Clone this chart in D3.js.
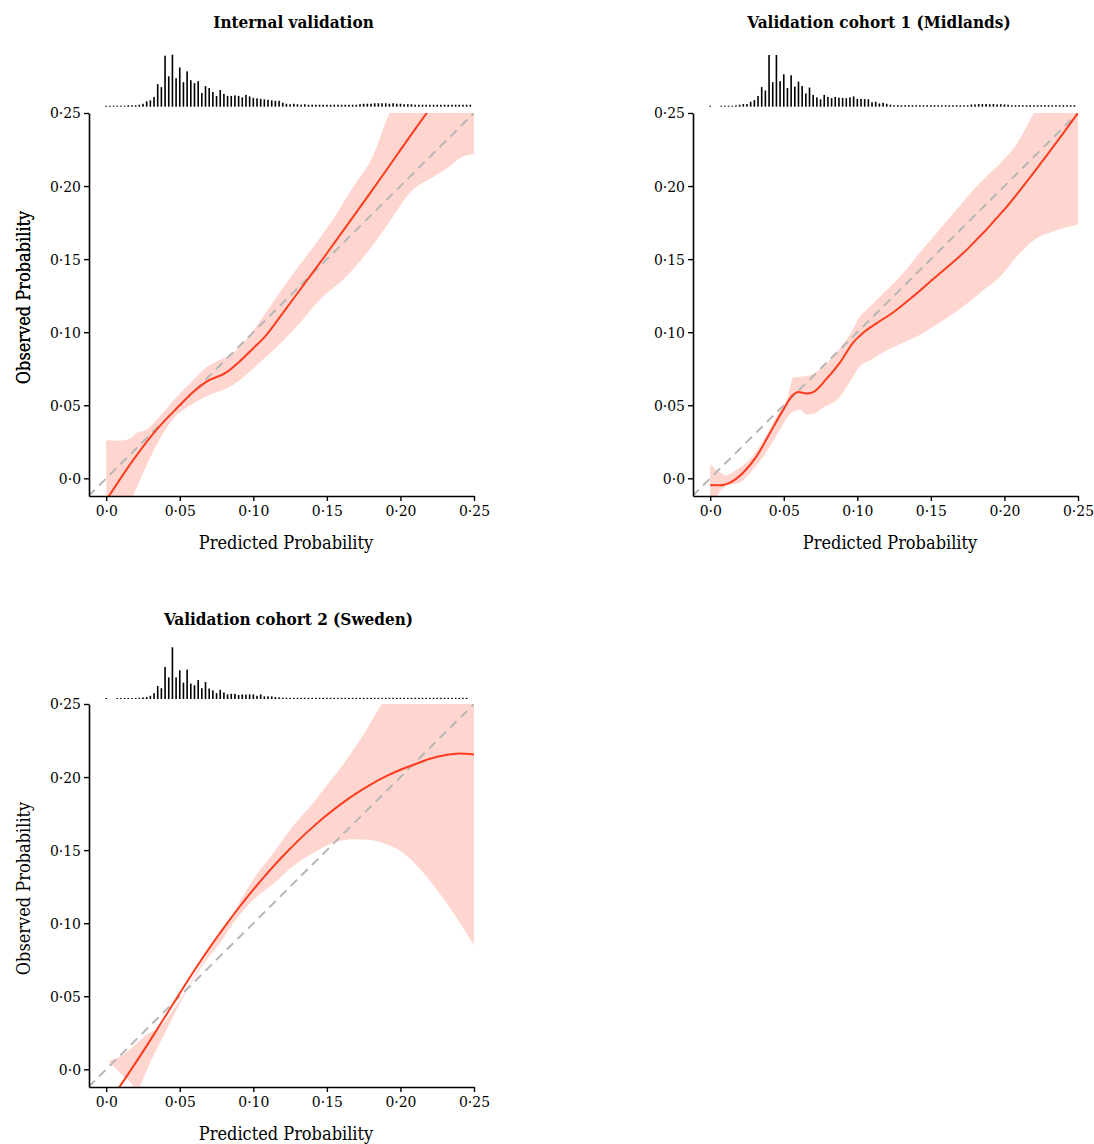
<!DOCTYPE html>
<html><head><meta charset="utf-8">
<script src="https://cdn.jsdelivr.net/npm/d3@7"></script>
<style>
html,body{margin:0;padding:0;background:#fff;}
svg{display:block;}
</style></head><body>
<svg id="chart" width="1094" height="1144"></svg>
<script>
// ---------------- data ----------------
const tickValues = [0, 0.05, 0.10, 0.15, 0.20, 0.25];
const tickLabels = ["0·0", "0·05", "0·10", "0·15", "0·20", "0·25"];
const titles = ["Internal validation", "Validation cohort 1 (Midlands)", "Validation cohort 2 (Sweden)"];
const xLabel = "Predicted Probability";
const yLabel = "Observed Probability";
const binWidth = 0.0025;

// histogram of predicted probabilities (relative heights, bins of 0.0025 from 0)
const hist1 = [1,1,1,1,1,1,1.5,1.5,1.5,2,
  3,5.5,6.5,10,23,20,52,31,53,29,
  40,25,36,27,24,26,14,21,19,15,
  11,17,13,11,11,11.5,11,9.5,12,10.5,
  9,8.5,8,7.5,7,6.5,6,6,4,3,
  2.5,3,2.5,2,2.5,2,2,2,2,2,
  2,2,2,2,2,2,2,2,2,2.5,
  3,3,3,3.5,3.5,3.5,3.5,3,3.5,3,
  3,2.5,2.5,2.5,2,2,2,2,2,2,
  2,2,2,2,2,2,2,2,2,2];
const hist2 = [1,0,0,1,1,1,1,1.3,2,2.7,
  2.7,5,6.7,11,20,16.5,52.7,25,52.7,26,
  33,19,32,20.5,25.5,21,13.5,19.5,12,9.5,
  7.5,12,10,8.7,10,9.2,9,8.7,9.5,10.5,
  8,8,7.8,7.5,4.5,5,3.3,4,3,2,
  1.5,1.5,1.5,1.5,1.5,1.5,1.5,1.5,1.5,1.5,
  1.5,1.5,1.5,1.5,1.5,1.5,1.5,1.5,1.5,1.5,
  1.5,2.3,2.3,2.7,2.7,2.7,2.5,2.7,2.3,2.5,
  2.3,2,1.5,1.5,1.5,1.5,1.5,1.5,1.5,1.5,
  1.5,1.5,1.5,1.5,1.5,1.5,1.5,1.5,1.5,1.5];
const hist3 = [1,0,0,1,1,1,1,1,1,1.3,
  1.7,2,3.3,6,13.3,11,32.7,22,52.7,22,
  29.3,16.7,30,15.7,14,19.3,11,17.3,10.7,8.7,
  6,9.3,6.7,4.7,5.3,5.3,4,4.7,4.5,4.7,
  4.7,3.3,4.7,2.7,2.7,2.7,2,1.7,1.3,1.3,
  1.2,1.2,1.2,1.2,1.2,1.2,1.2,1.2,1.2,1.2,
  1.2,1.2,1.2,1.2,1.2,1.2,1.2,1.2,1.2,1.2,
  1.2,1.2,1.2,1.2,1.2,1.2,1.2,1.2,1.2,1.2,
  1.2,1.2,1.2,1.2,1.2,1.2,1.2,1.2,1.2,1.2,
  1.2,1.2,1.2,1.2,1.2,1.2,1.2,1.2,1.2,0];

// calibration curves [predicted, observed]
const line1 = [[0,-0.015],[0.0183,0.0125],[0.034,0.033],[0.05,0.05],[0.058,0.058],[0.068,0.066],[0.0817,0.0725],[0.0907,0.080],[0.1,0.089],[0.1088,0.098],[0.12,0.113],[0.135,0.1335],[0.15,0.154],[0.165,0.175],[0.18,0.196],[0.195,0.2175],[0.21,0.239],[0.225,0.26]];
const upper1 = [[0,0.026],[0.0093,0.0257],[0.016,0.027],[0.0206,0.031],[0.027,0.033],[0.036,0.042],[0.05,0.058],[0.059,0.067],[0.068,0.076],[0.077,0.081],[0.086,0.0855],[0.0998,0.101],[0.113,0.12],[0.127,0.14],[0.1405,0.158],[0.154,0.177],[0.1676,0.199],[0.181,0.22],[0.1925,0.25],[0.21,0.28],[0.25,0.33]];
const lower1 = [[0,-0.045],[0.01,-0.03],[0.0183,-0.012],[0.027,0.008],[0.036,0.026],[0.045,0.040],[0.059,0.051],[0.0726,0.058],[0.0817,0.0615],[0.0907,0.067],[0.104,0.079],[0.118,0.092],[0.1314,0.106],[0.145,0.122],[0.163,0.138],[0.177,0.154],[0.19,0.172],[0.208,0.197],[0.222,0.206],[0.233,0.213],[0.242,0.22],[0.25,0.222]];

const line2 = [[0,-0.0046],[0.0066,-0.0048],[0.0134,-0.003],[0.0225,0.004],[0.0315,0.015],[0.0406,0.031],[0.0497,0.047],[0.0553,0.056],[0.0599,0.059],[0.0655,0.058],[0.07,0.059],[0.079,0.068],[0.088,0.079],[0.0973,0.093],[0.104,0.0996],[0.113,0.106],[0.125,0.114],[0.138,0.1245],[0.15,0.135],[0.175,0.157],[0.2,0.184],[0.225,0.216],[0.25,0.25]];
const upper2 = [[0,0.0096],[0.0066,0.0039],[0.011,0.002],[0.018,0.006],[0.027,0.013],[0.038,0.029],[0.046,0.044],[0.052,0.053],[0.0566,0.069],[0.0657,0.07],[0.0748,0.0745],[0.084,0.084],[0.0957,0.0996],[0.102,0.111],[0.1066,0.1155],[0.118,0.127],[0.129,0.138],[0.1405,0.152],[0.152,0.1657],[0.1655,0.1816],[0.179,0.1975],[0.19,0.2087],[0.197,0.2155],[0.2085,0.229],[0.22,0.25],[0.25,0.29]];
const lower2 = [[0,-0.02],[0.011,-0.005],[0.02,-0.003],[0.029,0.006],[0.038,0.0175],[0.0475,0.0335],[0.0553,0.045],[0.061,0.047],[0.0655,0.0437],[0.0695,0.044],[0.0775,0.049],[0.0866,0.054],[0.095,0.066],[0.102,0.077],[0.109,0.081],[0.1207,0.088],[0.1316,0.093],[0.143,0.0984],[0.152,0.104],[0.163,0.111],[0.175,0.12],[0.186,0.129],[0.197,0.138],[0.2085,0.152],[0.22,0.163],[0.2335,0.169],[0.25,0.1737]];

const line3 = [[0.005,-0.018],[0.0184,0.002],[0.03,0.020],[0.04,0.036],[0.05,0.052],[0.06,0.0678],[0.07,0.0828],[0.08,0.097],[0.09,0.1104],[0.10,0.123],[0.11,0.1348],[0.12,0.1458],[0.13,0.156],[0.14,0.1654],[0.15,0.174],[0.16,0.1818],[0.17,0.1888],[0.18,0.195],[0.19,0.2004],[0.20,0.205],[0.21,0.2088],[0.22,0.2125],[0.23,0.215],[0.24,0.2162],[0.25,0.2155]];
const upper3 = [[0.002,0.006],[0.0093,0.0087],[0.0184,0.0156],[0.0274,0.0236],[0.0365,0.029],[0.0456,0.0407],[0.0546,0.0544],[0.0637,0.0705],[0.075,0.0887],[0.0864,0.107],[0.1,0.13],[0.1136,0.148],[0.127,0.1665],[0.1408,0.1825],[0.1498,0.194],[0.1634,0.212],[0.177,0.2325],[0.1872,0.25],[0.2,0.27],[0.25,0.32]];
const lower3 = [[0.002,0.005],[0.01,-0.003],[0.018,-0.011],[0.021,-0.016],[0.024,-0.009],[0.0297,0.0041],[0.0388,0.0224],[0.0478,0.0407],[0.0592,0.0613],[0.0682,0.075],[0.0773,0.0865],[0.0864,0.1],[0.1,0.116],[0.1136,0.127],[0.127,0.139],[0.1408,0.148],[0.1544,0.155],[0.168,0.1574],[0.1793,0.157],[0.1906,0.154],[0.202,0.148],[0.2133,0.137],[0.2246,0.123],[0.236,0.107],[0.245,0.093],[0.25,0.085]];

// ---------------- layout ----------------
const W = 385, H = 383;
const panels = [
  {left: 89, top: 113, histGap: 6.3, title: titles[0], titleX: 293.5, titleY: 28, hist: hist1, line: line1, upper: upper1, lower: lower1},
  {left: 693, top: 113, histGap: 6.3, title: titles[1], titleX: 879, titleY: 28, hist: hist2, line: line2, upper: upper2, lower: lower2},
  {left: 89, top: 704, histGap: 5, title: titles[2], titleX: 288.5, titleY: 625, hist: hist3, line: line3, upper: upper3, lower: lower3}
];
const serif = '"DejaVu Serif Condensed", "DejaVu Serif", serif';
const svg = d3.select("#chart");

const x = d3.scaleLinear().domain([-0.0117, 0.25]).range([0, W]);
const y = d3.scaleLinear().domain([-0.0121, 0.25]).range([H, 0]);
const hScale = d3.scaleLinear().domain([0, 53]).range([0, 52]);
const smooth = d3.line().x(d => x(d[0])).y(d => y(d[1])).curve(d3.curveMonotoneX);

panels.forEach((p, i) => {
  const g = svg.append("g").attr("transform", `translate(${p.left},${p.top})`);
  const clipId = "clip" + i;
  svg.append("clipPath").attr("id", clipId)
    .append("rect").attr("x", 0).attr("y", 0).attr("width", W).attr("height", H);

  const plot = g.append("g").attr("clip-path", `url(#${clipId})`);
  // confidence band: upper edge forward, lower edge backward
  const up = smooth(p.upper);
  const lo = smooth(p.lower.slice().reverse());
  plot.append("path").attr("d", up + "L" + lo.slice(1) + "Z")
    .attr("fill", "#ffd6cf").attr("stroke", "none");
  // reference diagonal
  const d0 = Math.min(x.domain()[0], y.domain()[0]);
  plot.append("path")
    .attr("d", d3.line().x(d => x(d)).y(d => y(d))([d0, 0.25]))
    .attr("stroke", "#b6b6b6").attr("stroke-width", 2).attr("stroke-dasharray", "9,6").attr("fill", "none");
  // calibration line
  plot.append("path").attr("d", smooth(p.line))
    .attr("fill", "none").attr("stroke", "#ff3b1e").attr("stroke-width", 2);

  // histogram
  const hg = g.append("g").attr("transform", `translate(0,${-p.histGap})`);
  hg.selectAll("rect").data(p.hist.map((v, k) => ({v, k})).filter(d => d.v > 0)).join("rect")
    .attr("x", d => x(d.k * binWidth) - 0.8)
    .attr("width", 1.6)
    .attr("y", d => -hScale(d.v))
    .attr("height", d => hScale(d.v))
    .attr("fill", "#000");

  // axes
  const fmt = (d) => tickLabels[tickValues.indexOf(d)];
  const xa = g.append("g").attr("transform", `translate(0,${H})`)
    .call(d3.axisBottom(x).tickValues(tickValues).tickFormat(fmt).tickSizeOuter(0).tickSizeInner(5).tickPadding(4));
  const ya = g.append("g")
    .call(d3.axisLeft(y).tickValues(tickValues).tickFormat(fmt).tickSizeOuter(0).tickSizeInner(5).tickPadding(3));
  [xa, ya].forEach(a => {
    a.select(".domain").attr("stroke", "#000").attr("stroke-width", 1.6);
    a.selectAll(".tick line").attr("stroke", "#000").attr("stroke-width", 1.4);
    a.selectAll(".tick text").attr("font-family", serif).attr("font-stretch", "condensed")
      .attr("font-size", 15.5).attr("fill", "#000");
  });

  // labels
  g.append("text").attr("x", W / 2 + 4.5).attr("y", H + 53)
    .attr("text-anchor", "middle").attr("font-family", serif).attr("font-stretch", "condensed")
    .attr("font-size", 18).attr("fill", "#000").text(xLabel);
  g.append("text").attr("transform", `translate(${29.5 - p.left},${H / 2 - 7}) rotate(-90)`)
    .attr("text-anchor", "middle").attr("font-family", serif).attr("font-stretch", "condensed")
    .attr("font-size", 18).attr("fill", "#000").text(yLabel);
  svg.append("text").attr("x", p.titleX).attr("y", p.titleY)
    .attr("text-anchor", "middle").attr("font-family", serif).attr("font-stretch", "condensed")
    .attr("font-weight", "bold").attr("font-size", 17).attr("fill", "#000").text(p.title);
});
</script>
</body></html>
